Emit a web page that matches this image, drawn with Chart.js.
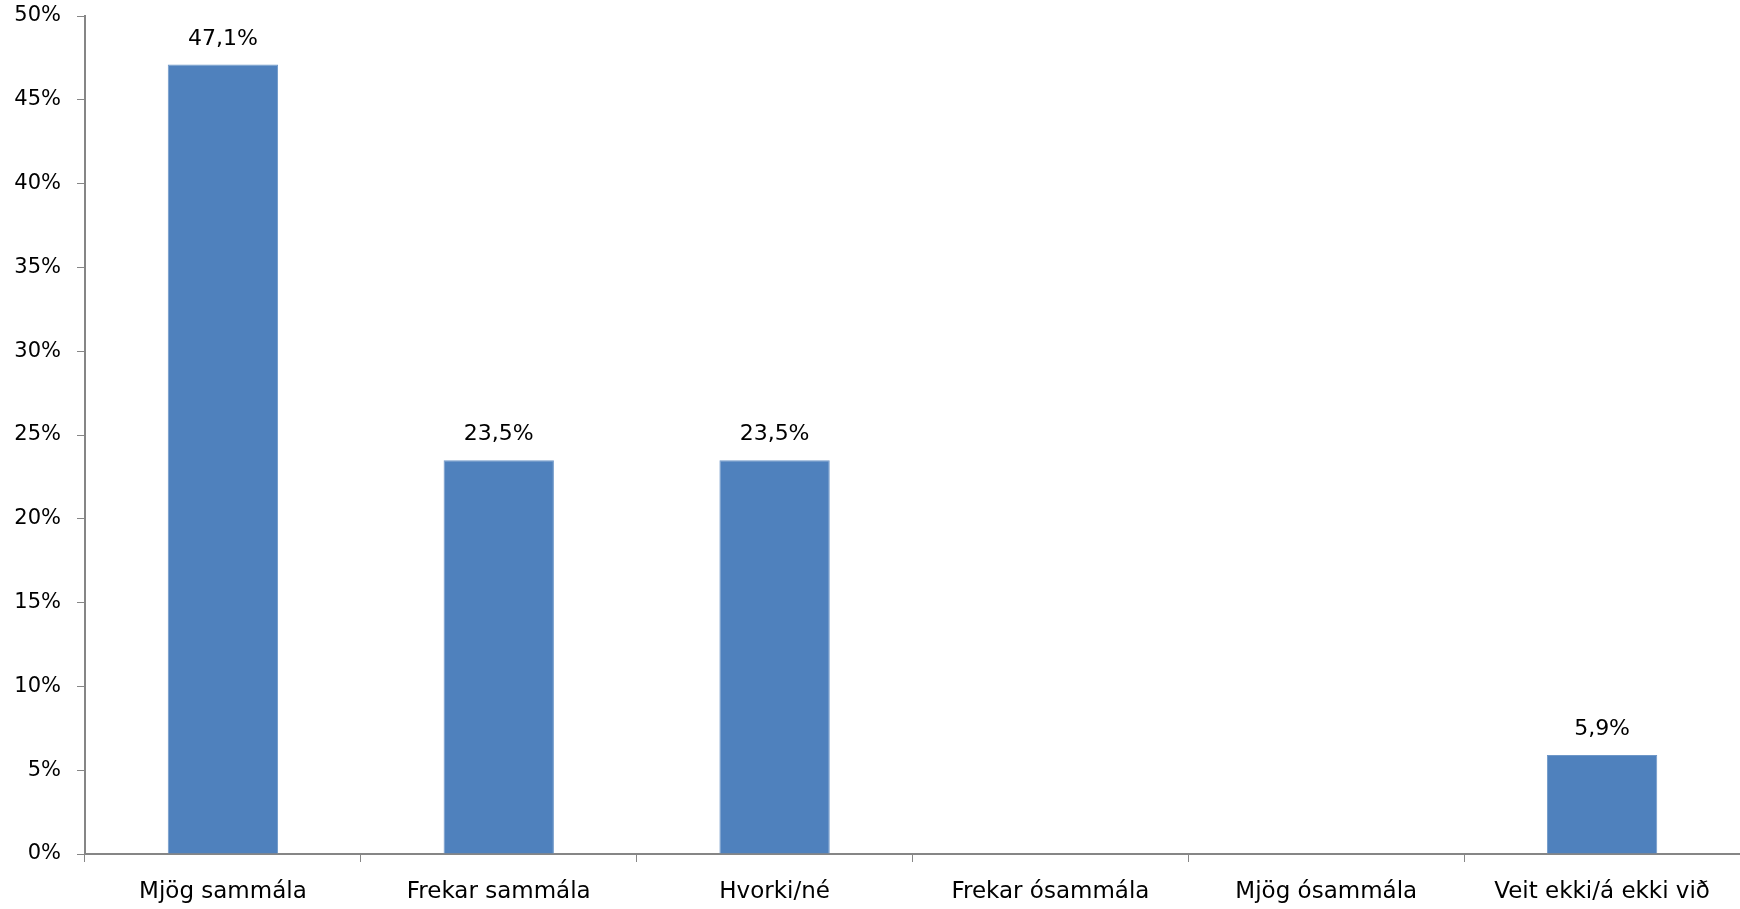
<!DOCTYPE html>
<html>
<head>
<meta charset="utf-8">
<script src="https://cdn.jsdelivr.net/npm/chart.js@4.4.1/dist/chart.umd.min.js"></script>
<style>
html,body{margin:0;padding:0;background:#fff;}
#wrap{position:relative;width:1740px;height:909px;}
</style>
</head>
<body>
<div id="wrap"><canvas id="c" width="1740" height="909"></canvas></div>
<script>
const categories = ["Mjög sammála", "Frekar sammála", "Hvorki/né", "Frekar ósammála", "Mjög ósammála", "Veit ekki/á ekki við"];
const values = [47.1, 23.5, 23.5, 0, 0, 5.9];
const yTickMax = 50;
const yTickStep = 5;

const axisColor = '#868686';
const fontFamily = '"DejaVu Sans", sans-serif';

const dataLabels = {
  id: 'dataLabels',
  afterDatasetsDraw(chart) {
    const ctx = chart.ctx;
    const meta = chart.getDatasetMeta(0);
    ctx.save();
    ctx.font = '22px ' + fontFamily;
    ctx.fillStyle = '#000';
    ctx.textAlign = 'center';
    ctx.textBaseline = 'alphabetic';
    meta.data.forEach((bar, i) => {
      const v = values[i];
      if (!v) return;
      ctx.fillText(v.toFixed(1).replace('.', ',') + '%', bar.x, bar.y - 20);
    });
    ctx.restore();
  }
};

new Chart(document.getElementById('c'), {
  type: 'bar',
  data: {
    labels: categories,
    datasets: [{
      data: values,
      backgroundColor: '#4F81BD',
      borderColor: '#6E97C8',
      borderWidth: 1,
      barPercentage: 0.4,
      categoryPercentage: 1.0
    }]
  },
  options: {
    responsive: false,
    animation: false,
    layout: { padding: { top: 16, right: 0, left: 0, bottom: 0 } },
    plugins: { legend: { display: false }, tooltip: { enabled: false } },
    scales: {
      x: {
        grid: { display: true, drawOnChartArea: false, drawTicks: true, tickLength: 8, color: axisColor, offset: true },
        border: { display: true, color: axisColor, width: 2 },
        ticks: { color: '#000', font: { family: fontFamily, size: 23 }, padding: 16, maxRotation: 0, autoSkip: false },
        afterFit(s) { s.height = 55; s.paddingLeft = 0; s.paddingRight = 0; }
      },
      y: {
        min: 0, max: yTickMax,
        grid: { display: true, drawOnChartArea: false, drawTicks: true, tickLength: 8, color: axisColor },
        border: { display: true, color: axisColor, width: 2 },
        ticks: { stepSize: yTickStep, color: '#000', font: { family: fontFamily, size: 21 }, padding: 16,
                 callback: v => v + '%' },
        afterFit(s) { s.width = 85; s.paddingTop = 0; s.paddingBottom = 0; }
      }
    }
  },
  plugins: [dataLabels]
});
</script>
</body>
</html>
